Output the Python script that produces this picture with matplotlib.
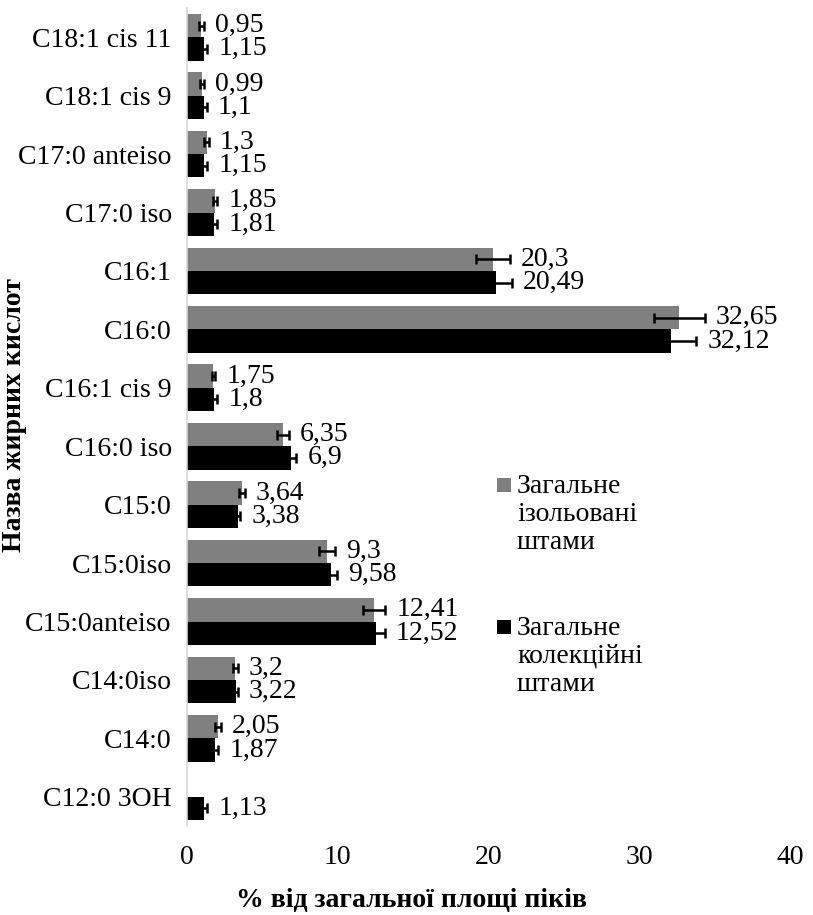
import numpy as np
import matplotlib
matplotlib.use("Agg")
import matplotlib.pyplot as plt
from matplotlib.patches import Rectangle

plt.rcParams["font.family"] = "serif"
plt.rcParams["font.serif"] = ["Liberation Serif", "DejaVu Serif"]
plt.rcParams["font.size"] = 20

# fatty acids, top to bottom
acids = ["C18:1 cis 11", "C18:1 cis 9", "C17:0 anteiso", "C17:0 iso", "C16:1",
         "C16:0", "C16:1 cis 9", "C16:0 iso", "C15:0", "C15:0iso",
         "C15:0anteiso", "C14:0iso", "C14:0", "C12:0 3OH"]

# % of total peak area
isolated = [0.95, 0.99, 1.3, 1.85, 20.3, 32.65, 1.75, 6.35, 3.64, 9.3,
            12.41, 3.2, 2.05, np.nan]
isolated_err = [0.15, 0.15, 0.15, 0.15, 1.1, 1.7, 0.12, 0.4, 0.2, 0.55,
                0.75, 0.15, 0.2, np.nan]
collection = [1.15, 1.1, 1.15, 1.81, 20.49, 32.12, 1.8, 6.9, 3.38, 9.58,
              12.52, 3.22, 1.87, 1.13]
collection_err = [0.2, 0.2, 0.2, 0.2, 1.05, 1.65, 0.2, 0.35, 0.15, 0.4,
                  0.6, 0.15, 0.2, 0.2]

series_names = ["Загальне\nізольовані\nштами", "Загальне\nколекційні\nштами"]
colors = ["#808080", "#000000"]
xticks = [0, 10, 20, 30, 40]

W, H = 813, 915
fig = plt.figure(figsize=(W / 100, H / 100), dpi=100)
ax = fig.add_axes([187 / W, 1 - 826 / H, (790 - 187) / W, (826 - 8) / H])

y = np.arange(len(acids))
h = 0.4
err_kw = dict(ecolor="black", elinewidth=1.8, capsize=3.6, capthick=1.8)

for vals, errs, offs, col in [(isolated, isolated_err, -h / 2, colors[0]),
                              (collection, collection_err, h / 2, colors[1])]:
    ax.barh(y + offs, vals, height=h, color=col, linewidth=0,
            xerr=errs, error_kw=err_kw)
    for yi, v, e in zip(y + offs, vals, errs):
        if np.isnan(v):
            continue
        ax.annotate(f"{v:g}".replace(".", ","), xy=(v + e, yi),
                    xytext=(8, 0), textcoords="offset points",
                    ha="left", va="center", fontsize=20, family="serif")

ax.set_xlim(0, 40)
ax.set_ylim(len(acids) - 0.5, -0.5)
ax.set_xticks(xticks)
ax.set_xticklabels([str(t) for t in xticks], fontsize=20, family="serif")
ax.set_yticks(y)
ax.set_yticklabels(acids, fontsize=20, family="serif")
ax.tick_params(axis="x", length=0, pad=14)
ax.tick_params(axis="y", length=0, pad=11)
for s in ["top", "right", "bottom"]:
    ax.spines[s].set_visible(False)
ax.spines["left"].set_color("#d9d9d9")
ax.spines["left"].set_linewidth(1.2)

fig.text(411 / W, 1 - 900 / H, "% від загальної площі піків", family="serif",
         fontsize=20, fontweight="bold", ha="center", va="center")
fig.text(15 / W, 1 - 415 / H, "Назва жирних кислот", rotation=90, family="serif",
         fontsize=20, fontweight="bold", ha="center", va="center")

# legend drawn by hand so the swatch sits on the first line
for (sq_y, txt_top), name, col in zip([(485, 474), (627, 616)], series_names, colors):
    fig.patches.append(Rectangle((497 / W, 1 - (sq_y + 7) / H), 14 / W, 14 / H,
                                 transform=fig.transFigure, color=col, linewidth=0))
    fig.text(517 / W, 1 - txt_top / H, name, ha="left", va="top",
             linespacing=1.15, fontsize=20, family="serif")

fig.savefig("out.png", dpi=100)
